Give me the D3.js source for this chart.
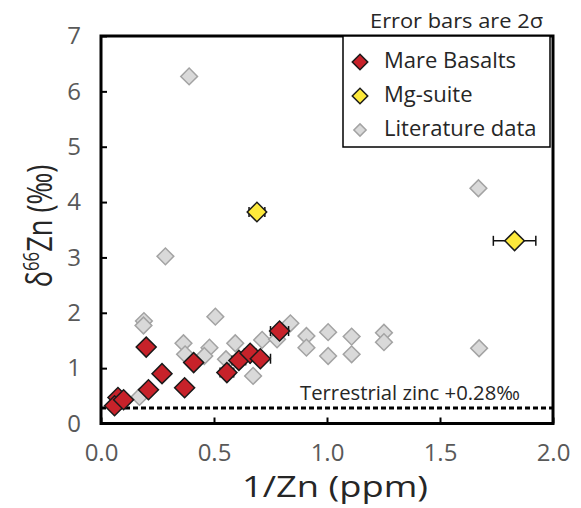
<!DOCTYPE html>
<html>
<head>
<meta charset="utf-8">
<script src="https://cdn.jsdelivr.net/npm/d3@7"></script>
<style>
  body { margin: 0; background: #fff; }
  text { font-family: "Open Sans", sans-serif; }
</style>
</head>
<body>
<div id="chart"></div>
<script>
var width = 581,
    height = 508;

// data: [1/Zn, d66Zn, x error]
var mareBasalts = [
  [0.075, 0.47, 0.01], [0.06, 0.32, 0.01], [0.10, 0.43, 0.01],
  [0.20, 1.38, 0.01], [0.21, 0.61, 0.01], [0.27, 0.90, 0.01],
  [0.37, 0.645, 0.01], [0.41, 1.10, 0.01], [0.557, 0.92, 0.03],
  [0.61, 1.14, 0.03], [0.66, 1.27, 0.025], [0.705, 1.17, 0.045],
  [0.79, 1.67, 0.04]
];
var mgSuite = [
  [0.69, 3.82, 0.035], [1.83, 3.30, 0.094]
];
var literature = [
  [0.39, 6.27], [0.285, 3.02], [1.67, 4.25], [0.19, 1.85], [0.188, 1.77],
  [0.17, 0.48], [0.365, 1.45], [0.372, 1.25], [0.506, 1.93], [0.48, 1.37],
  [0.457, 1.22], [0.553, 1.16], [0.594, 1.45], [0.673, 0.86], [0.713, 1.51],
  [0.779, 1.52], [0.838, 1.81], [0.909, 1.58], [0.909, 1.37], [1.005, 1.65],
  [1.005, 1.22], [1.109, 1.57], [1.109, 1.25], [1.252, 1.64], [1.252, 1.47],
  [1.673, 1.36]
];
var xTicks = [0, 0.5, 1.0, 1.5, 2.0];
var yTicks = [0, 1, 2, 3, 4, 5, 6, 7];
var terrestrial = 0.28;
var legendItems = ["Mare Basalts", "Mg-suite", "Literature data"];

var x = d3.scaleLinear().domain([0, 2]).range([101, 553]);
var y = d3.scaleLinear().domain([0, 7]).range([423.5, 36]);

var svg = d3.select("#chart").append("svg")
    .attr("width", width)
    .attr("height", height);

var diamond = function (size) {
  return d3.symbol().type(d3.symbolSquare).size(size)();
};

// axes (inward ticks)
var xAxis = svg.append("g")
    .attr("transform", "translate(0," + y(0) + ")")
    .call(d3.axisBottom(x).tickValues(xTicks).tickFormat(d3.format(".1f"))
      .tickSizeInner(-6).tickSizeOuter(0).tickPadding(20));
var yAxis = svg.append("g")
    .attr("transform", "translate(" + x(0) + ",0)")
    .call(d3.axisLeft(y).tickValues(yTicks).tickFormat(d3.format("d"))
      .tickSizeInner(-6).tickSizeOuter(0).tickPadding(20));

[xAxis, yAxis].forEach(function (a) {
  a.select(".domain").remove();
  a.selectAll(".tick line").attr("stroke", "#000").attr("stroke-width", 2);
  a.selectAll(".tick text")
    .attr("fill", "#595959")
    .style("font-size", "24px")
    .style("font-family", "'Open Sans', sans-serif");
});
xAxis.selectAll(".tick text").attr("dy", "0.71em");

// terrestrial zinc line
svg.append("line")
    .attr("x1", x(0)).attr("x2", x(2))
    .attr("y1", y(terrestrial)).attr("y2", y(terrestrial))
    .attr("stroke", "#000")
    .attr("stroke-width", 3)
    .attr("stroke-dasharray", "5,3");

svg.append("text")
    .attr("x", 300).attr("y", 400)
    .attr("fill", "#262626")
    .style("font-size", "20px")
    .attr("textLength", 220)
    .attr("lengthAdjust", "spacingAndGlyphs")
    .text("Terrestrial zinc +0.28‰");

// error bars
function errorBars(data) {
  var g = svg.append("g");
  data.forEach(function (d) {
    var x0 = x(d[0] - d[2]), x1 = x(d[0] + d[2]), yy = y(d[1]);
    g.append("line").attr("x1", x0).attr("x2", x1).attr("y1", yy).attr("y2", yy)
      .attr("stroke", "#111").attr("stroke-width", 1.5);
    [x0, x1].forEach(function (xx) {
      g.append("line").attr("x1", xx).attr("x2", xx).attr("y1", yy - 5).attr("y2", yy + 5)
        .attr("stroke", "#111").attr("stroke-width", 1.5);
    });
  });
}

function points(data, size, fill, stroke) {
  svg.append("g").selectAll("path")
    .data(data)
    .enter().append("path")
    .attr("d", diamond(size))
    .attr("transform", function (d) { return "translate(" + x(d[0]) + "," + y(d[1]) + ") rotate(45)"; })
    .attr("fill", fill)
    .attr("stroke", stroke)
    .attr("stroke-width", 1.5);
}

points(literature, 140, "#d9d9d9", "#a3a3a3");
errorBars(mareBasalts);
points(mareBasalts, 200, "#c7222a", "#1a1a1a");
errorBars(mgSuite);
points(mgSuite, 190, "#fde93b", "#1a1a1a");

// frame
svg.append("rect")
    .attr("x", x(0)).attr("y", y(7))
    .attr("width", x(2) - x(0))
    .attr("height", y(0) - y(7))
    .attr("fill", "none")
    .attr("stroke", "#000")
    .attr("stroke-width", 3);

// legend
var legend = svg.append("g");
legend.append("rect")
    .attr("x", 343).attr("y", y(7))
    .attr("width", 207).attr("height", 147 - y(7))
    .attr("fill", "#fff")
    .attr("stroke", "#000")
    .attr("stroke-width", 1.5);

var legendStyle = [
  { fill: "#c7222a", stroke: "#1a1a1a", size: 120 },
  { fill: "#fde93b", stroke: "#1a1a1a", size: 120 },
  { fill: "#d9d9d9", stroke: "#a3a3a3", size: 75 }
];
legendItems.forEach(function (name, i) {
  var cy = 62 + i * 34;
  legend.append("path")
    .attr("d", diamond(legendStyle[i].size))
    .attr("transform", "translate(360," + cy + ") rotate(45)")
    .attr("fill", legendStyle[i].fill)
    .attr("stroke", legendStyle[i].stroke)
    .attr("stroke-width", 1.5);
  legend.append("text")
    .attr("x", 384).attr("y", cy + 6)
    .attr("fill", "#262626")
    .style("font-size", "22px")
    .text(name);
});

svg.append("text")
    .attr("x", 543).attr("y", 28)
    .attr("text-anchor", "end")
    .attr("fill", "#262626")
    .style("font-size", "20px")
    .attr("textLength", 173)
    .attr("lengthAdjust", "spacingAndGlyphs")
    .text("Error bars are 2σ");

// axis titles
svg.append("text")
    .attr("x", 335).attr("y", 497)
    .attr("text-anchor", "middle")
    .attr("fill", "#262626")
    .style("font-size", "29px")
    .attr("textLength", 186)
    .attr("lengthAdjust", "spacingAndGlyphs")
    .text("1/Zn (ppm)");

// y title squeezed along its length to fit like the original
var yTitle = svg.append("text")
    .attr("transform", "translate(52,226) rotate(-90) scale(0.8,1)")
    .attr("text-anchor", "middle")
    .attr("fill", "#262626")
    .style("font-size", "34px");
yTitle.append("tspan").text("δ");
yTitle.append("tspan").attr("dy", -13).style("font-size", "21px").text("66");
yTitle.append("tspan").attr("dy", 13).text("Zn (‰)");
</script>
</body>
</html>
